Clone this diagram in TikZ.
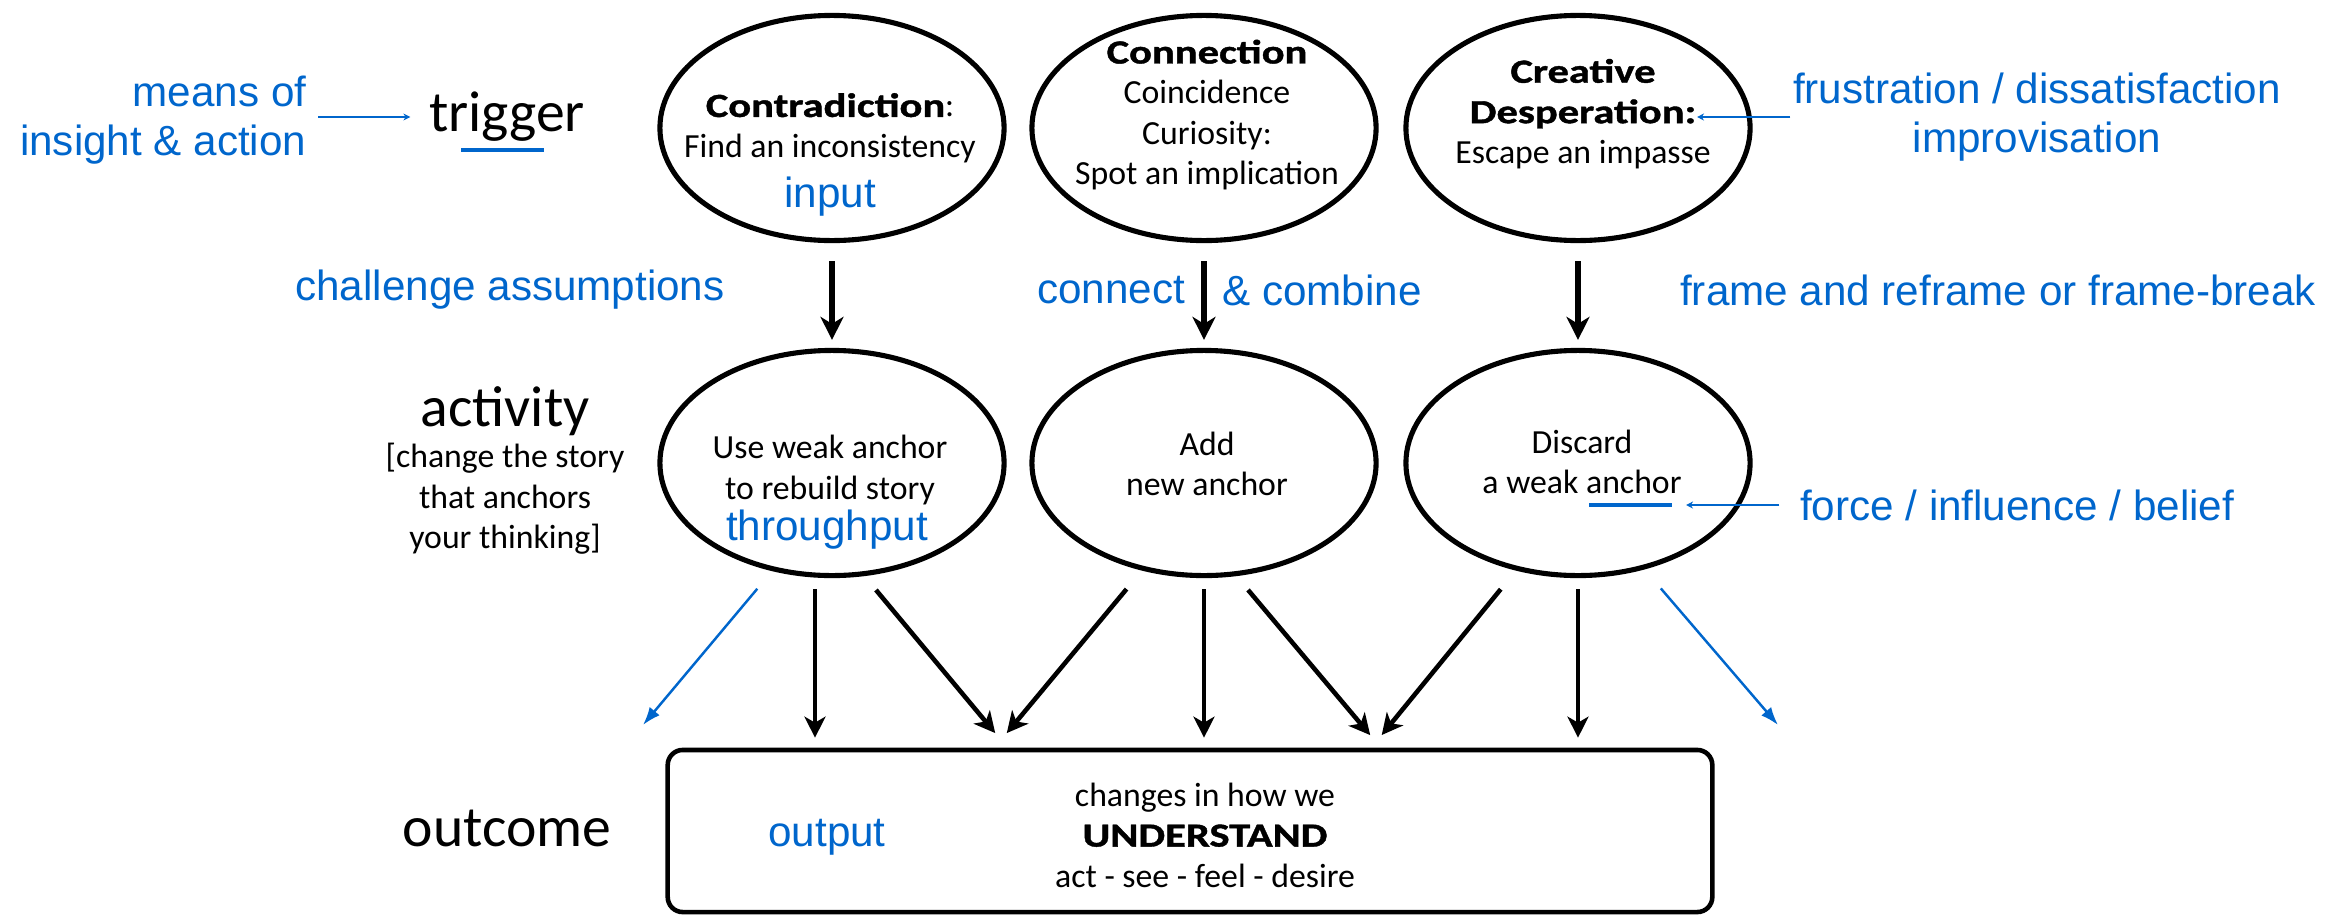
\documentclass[tikz,border=0pt]{standalone}
\usepackage{fontspec}
\setmainfont{Carlito}
\newfontfamily\arialfont{Liberation Sans}
\newfontfamily\heavyfont[FakeStretch=1.26, FakeBold=1.2]{Carlito}
\usetikzlibrary{shapes.geometric, arrows.meta}
\definecolor{noteblue}{RGB}{0,102,204}

\begin{document}
\begin{tikzpicture}[x=0.01cm, y=-0.01cm]
	\tikzset{
		oval/.style={draw, ellipse, line width=1.45pt, minimum width=3.44cm, minimum height=2.25cm, inner sep=0pt},
		txt/.style={align=center, inner sep=0pt, font=\fontsize{9.6}{11.5}\selectfont},
		lbl/.style={align=center, inner sep=0pt, font=\fontsize{16.4}{19}\selectfont},
		note/.style={inner sep=0pt, text=noteblue, align=center, font=\arialfont\fontsize{12}{13.9}\selectfont},
		flow/.style={-{Stealth[length=0.23cm,width=0.23cm,inset=0.07cm]}, line width=1.8pt, shorten <=0.18cm, shorten >=0.08cm},
		feed/.style={-{Stealth[length=0.21cm,width=0.21cm,inset=0.06cm]}, line width=1.3pt},
		pointer/.style={-{Stealth[length=0.07cm,width=0.07cm]}, noteblue, line width=0.4pt},
		spill/.style={-{Latex[length=0.18cm,width=0.13cm]}, noteblue, line width=0.7pt},
		uline/.style={noteblue, line width=0.9pt}
	}
	\useasboundingbox (0,0) rectangle (2349,915);
	
	% trigger row
	\node[oval] (e1) at (832,128) {};
	\node[oval] (e2) at (1204,128) {};
	\node[oval] (e3) at (1578,128) {};
	\node[txt] (t1) at (830,128) {{\heavyfont\bfseries Contradiction}:\\Find an inconsistency};
	\node[txt] (t2) at (1207,115) {{\heavyfont\bfseries Connection}\\Coincidence\\Curiosity:\\Spot an implication};
	\node[txt] (t3) at (1583,114) {{\heavyfont\bfseries Creative}\\{\heavyfont\bfseries Desperation:}\\Escape an impasse};
	\node[note] (in1) at (830,197) {input};
	
	% activity row
	\node[oval] (a1) at (832,463) {};
	\node[oval] (a2) at (1204,463) {};
	\node[oval] (a3) at (1578,463) {};
	\node[txt] (u1) at (830,470) {Use weak anchor\\to rebuild story};
	\node[txt] (u2) at (1207,464) {Add\\new anchor};
	\node[txt] (u3) at (1582,462) {Discard\\a weak anchor};
	\node[note] (thr) at (827,530) {throughput};
	
	% outcome box
	\node[draw, rounded corners=0.15cm, line width=1.3pt, minimum width=10.44cm, minimum height=1.62cm, inner sep=0pt] (box) at (1190,831) {};
	\node[txt] (chg) at (1205,835) {changes in how we\\{\heavyfont\bfseries UNDERSTAND}\\act - see - feel - desire};
	\node[note] (outp) at (827,837) {output};
	
	% row labels
	\node[lbl] (trig) at (507,117) {trigger};
	\node[lbl] (act) at (505,411) {activity};
	\node[txt] (actsub) at (505,499) {[change the story\\that anchors\\your thinking]};
	\node[lbl] (outc) at (507,828) {outcome};
	
	% blue notes
	\node[note, align=right, anchor=east] (means) at (307,120) {means of\\insight \& action};
	\node[note] (frust) at (2037,117) {frustration / dissatisfaction\\improvisation};
	\node[note] (chal) at (510,290) {challenge assumptions};
	\node[note] (conn) at (1111,290) {connect};
	\node[note] (comb) at (1322,290) {\& combine};
	\node[note] (frame) at (1998,290) {frame and reframe or frame-break};
	\node[note] (force) at (2017,505) {force / influence / belief};
	
	% trigger -> activity
	\draw[flow] (e1.south) -- (a1.north);
	\draw[flow] (e2.south) -- (a2.north);
	\draw[flow] (e3.south) -- (a3.north);
	
	% activity -> outcome
	\coordinate (f1) at ([xshift=-0.17cm]a1.south);
	\coordinate (j1) at (1001,740);
	\coordinate (j2) at (1376,742);
	\draw[feed, shorten <=0.11cm, shorten >=0.1cm] (f1) -- (f1 |- box.north);
	\draw[feed, shorten <=0.11cm, shorten >=0.1cm] (a2.south) -- (a2.south |- box.north);
	\draw[feed, shorten <=0.11cm, shorten >=0.1cm] (a3.south) -- (a3.south |- box.north);
	\draw[feed, shorten <=0.18cm, shorten >=0.09cm] (a1.-74) -- (j1);
	\draw[feed, shorten <=0.24cm, shorten >=0.09cm] (a2.-120) -- (j1);
	\draw[feed, shorten <=0.18cm, shorten >=0.09cm] (a2.-74) -- (j2);
	\draw[feed, shorten <=0.24cm, shorten >=0.09cm] (a3.-120) -- (j2);
	
	% blue side arrows
	\coordinate (b1) at (643,725);
	\coordinate (b2) at (1778,725);
	\draw[spill, shorten <=0.23cm] (a1.-119) -- (b1);
	\draw[spill, shorten <=0.25cm] (a3.-58) -- (b2);
	
	% pointers and underlines
	\coordinate (despend) at (1697,117);
	\coordinate (anchorend) at (1686,505);
	\draw[pointer, shorten <=0.11cm, shorten >=0.18cm] (means.east |- trig.west) -- (trig.west);
	\draw[pointer, shorten <=0.02cm] (frust.west |- despend) -- (despend);
	\draw[pointer, shorten <=0.2cm] (force.west) -- (anchorend);
	\draw[uline] (461,150) -- (544,150);
	\draw[uline] (1589,505) -- (1672,505);
\end{tikzpicture}
\end{document}
